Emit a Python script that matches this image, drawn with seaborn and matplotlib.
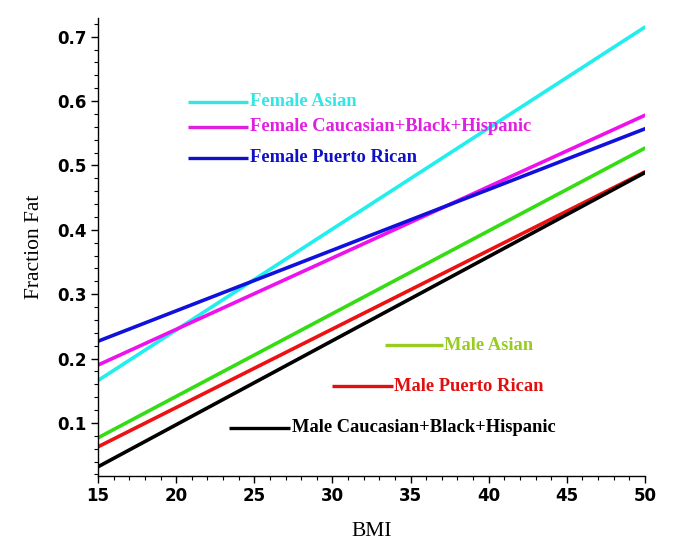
import numpy as np
import pandas as pd
import matplotlib
matplotlib.use("Agg")
import matplotlib.pyplot as plt
from matplotlib.ticker import MultipleLocator
import seaborn as sns

# straight fits: fraction fat at BMI 15 and BMI 50
bmi = [15, 50]
groups = ["Female Asian", "Female Caucasian+Black+Hispanic", "Female Puerto Rican",
          "Male Asian", "Male Puerto Rican", "Male Caucasian+Black+Hispanic"]
female_asian = [0.166, 0.715]
female_cbh = [0.190, 0.578]
female_pr = [0.227, 0.557]
male_asian = [0.077, 0.527]
male_pr = [0.063, 0.490]
male_cbh = [0.032, 0.489]

line_colors = ["#22eeee", "#ee11ee", "#1111dd", "#33dd11", "#ee1111", "#000000"]
label_colors = ["#33e6e6", "#e020e0", "#1010c8", "#99cc22", "#e01010", "#000000"]

rows = []
for g, vals in zip(groups, [female_asian, female_cbh, female_pr, male_asian, male_pr, male_cbh]):
    for b, v in zip(bmi, vals):
        rows.append({"BMI": b, "Fraction Fat": v, "group": g})
df = pd.DataFrame(rows)

sns.set_theme(style="white")
fig = plt.figure(figsize=(6.85, 5.58), dpi=100)
ax = fig.add_axes([0.1431, 0.147, 0.7985, 0.8207])

sns.lineplot(data=df, x="BMI", y="Fraction Fat", hue="group", hue_order=groups,
             palette=line_colors, linewidth=2.6, legend=False, ax=ax)

ax.set_xlim(15, 50)
ax.set_ylim(0.0177, 0.729)
ax.xaxis.set_major_locator(MultipleLocator(5))
ax.xaxis.set_minor_locator(MultipleLocator(1))
ax.yaxis.set_major_locator(MultipleLocator(0.1))
ax.yaxis.set_minor_locator(MultipleLocator(0.02))
ax.tick_params(which="major", direction="out", length=5, width=1, color="black",
               left=True, bottom=True, pad=3)
ax.tick_params(which="minor", direction="out", length=3, width=0.8, color="black",
               left=True, bottom=True)
ax.yaxis.set_major_formatter(matplotlib.ticker.FuncFormatter(lambda v, p: f"{v:.1f}"))
for lab in ax.get_xticklabels() + ax.get_yticklabels():
    lab.set_fontfamily("DejaVu Sans")
    lab.set_fontweight("bold")
    lab.set_fontsize(12)
    lab.set_color("black")

for s in ["top", "right"]:
    ax.spines[s].set_visible(False)
for s in ["left", "bottom"]:
    ax.spines[s].set_color("black")
    ax.spines[s].set_linewidth(1)

ax.set_xlabel("BMI", fontfamily="Liberation Serif", fontsize=15.5, color="black", labelpad=12)
ax.set_ylabel("Fraction Fat", fontfamily="Liberation Serif", fontsize=15.5, color="black", labelpad=10)

# inline legend: (line start, line end, y) in data units
key_pos = [(20.75, 24.6, 0.599), (20.75, 24.6, 0.560), (20.75, 24.6, 0.512),
           (33.35, 37.05, 0.221), (30.0, 33.85, 0.157), (23.4, 27.3, 0.0925)]
for g, c, (x0, x1, y) in zip(groups, label_colors, key_pos):
    ax.plot([x0, x1], [y, y], color=c, lw=2.4, solid_capstyle="butt")
    ax.text(x1 + 0.12, y, g, color=c, fontfamily="Liberation Serif",
            fontweight="bold", fontsize=13.3, va="center", ha="left")

fig.savefig("out.png", dpi=100)
